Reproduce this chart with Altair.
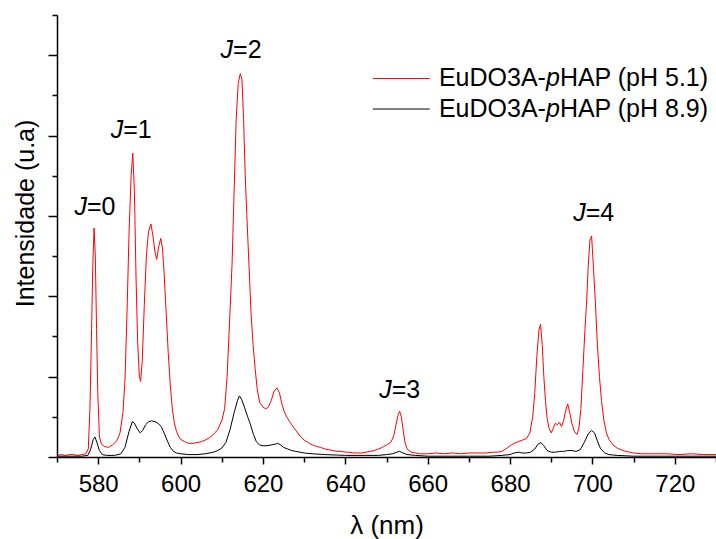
import altair as alt
import pandas as pd

# ---------------- data ----------------
red_nm = [570.0, 571.0, 572.0, 573.0, 574.0, 575.0, 576.0, 577.0, 577.6, 578.0, 578.4, 578.7, 579.0, 579.3,
          579.6, 579.9, 580.3, 580.8, 581.5, 582.5, 583.5, 584.5, 585.3, 586.0, 586.5, 587.0, 587.5, 588.0,
          588.4, 588.8, 589.2, 589.6, 590.0, 590.3, 590.7, 591.2, 591.7, 592.2, 592.8, 593.3, 593.8, 594.2,
          594.7, 595.2, 595.6, 596.0, 596.5, 597.0, 597.5, 598.0, 598.5, 599.0, 599.5, 600.0, 601.0, 602.0,
          603.0, 604.0, 605.0, 606.0, 607.0, 608.0, 609.0, 610.0, 610.7, 611.3, 612.0, 612.5, 613.0, 613.5,
          614.0, 614.5, 614.9, 615.3, 615.7, 616.1, 616.6, 617.1, 617.6, 618.1, 618.6, 619.2, 620.0, 620.7,
          621.3, 622.0, 622.7, 623.4, 624.0, 624.6, 625.2, 626.0, 627.0, 628.0, 629.0, 630.0, 631.0, 632.0,
          633.0, 634.0, 635.0, 636.0, 637.0, 638.0, 639.0, 640.0, 641.0, 642.0, 643.0, 644.0, 645.0, 646.0,
          647.0, 648.0, 649.0, 650.0, 651.0, 651.7, 652.3, 652.8, 653.2, 653.6, 654.0, 654.5, 655.0, 656.0,
          657.0, 658.0, 660.0, 662.0, 664.0, 666.0, 668.0, 670.0, 672.0, 674.0, 676.0, 677.0, 678.0, 679.0,
          680.0, 681.0, 682.0, 683.0, 684.0, 684.8, 685.5, 686.0, 686.5, 687.0, 687.4, 687.8, 688.2, 688.6,
          689.0, 689.5, 690.0, 690.5, 691.0, 691.5, 692.0, 692.5, 693.0, 693.5, 694.0, 694.5, 695.0, 695.6,
          696.2, 696.7, 697.2, 697.7, 698.2, 698.6, 699.0, 699.4, 699.8, 700.2, 700.7, 701.2, 701.7, 702.2,
          702.8, 703.4, 704.0, 705.0, 706.0, 707.0, 708.0, 709.0, 710.0, 712.0, 715.0, 718.0, 721.0, 724.0,
          727.0, 730.0]
red_int = [0.02, 0.03, 0.02, 0.03, 0.03, 0.02, 0.03, 0.04, 0.10, 0.60, 1.60, 2.40, 2.85, 2.50,
           1.60, 0.80, 0.25, 0.16, 0.13, 0.12, 0.15, 0.20, 0.30, 0.55, 0.95, 1.80, 2.80, 3.50,
           3.78, 3.30, 2.20, 1.40, 1.00, 0.94, 1.20, 1.90, 2.50, 2.80, 2.90, 2.75, 2.55, 2.46,
           2.62, 2.72, 2.60, 2.30, 1.80, 1.30, 0.90, 0.60, 0.42, 0.32, 0.26, 0.22, 0.19, 0.17,
           0.17, 0.18, 0.19, 0.21, 0.24, 0.28, 0.34, 0.45, 0.60, 1.00, 1.80, 2.40, 3.30, 4.20,
           4.65, 4.77, 4.70, 4.20, 3.50, 3.00, 2.40, 1.80, 1.40, 1.10, 0.85, 0.68, 0.62, 0.60,
           0.62, 0.70, 0.82, 0.86, 0.80, 0.66, 0.56, 0.48, 0.40, 0.33, 0.26, 0.21, 0.18, 0.15,
           0.13, 0.12, 0.10, 0.09, 0.08, 0.07, 0.07, 0.06, 0.06, 0.05, 0.05, 0.05, 0.06, 0.07,
           0.08, 0.10, 0.12, 0.15, 0.18, 0.25, 0.40, 0.52, 0.57, 0.50, 0.35, 0.18, 0.10, 0.06,
           0.05, 0.04, 0.04, 0.05, 0.04, 0.05, 0.04, 0.05, 0.05, 0.05, 0.06, 0.06, 0.07, 0.10,
           0.14, 0.17, 0.19, 0.21, 0.23, 0.30, 0.50, 0.80, 1.25, 1.58, 1.65, 1.40, 1.00, 0.70,
           0.48, 0.35, 0.30, 0.36, 0.42, 0.40, 0.43, 0.38, 0.45, 0.58, 0.66, 0.55, 0.42, 0.32,
           0.28, 0.35, 0.60, 1.10, 1.60, 1.94, 2.40, 2.70, 2.75, 2.40, 1.94, 1.40, 1.00, 0.70,
           0.45, 0.30, 0.22, 0.15, 0.11, 0.09, 0.07, 0.06, 0.05, 0.04, 0.04, 0.04, 0.03, 0.04,
           0.03, 0.03]

black_nm = [570.0, 576.0, 577.5, 578.2, 578.8, 579.2, 579.7, 580.3, 581.0, 582.0, 584.0, 585.5, 586.5,
            587.5, 588.3, 588.8, 589.5, 590.2, 590.8, 591.5, 592.3, 593.0, 593.8, 594.5, 595.3, 596.0,
            596.8, 597.5, 598.3, 599.0, 600.0, 602.0, 604.0, 606.0, 608.0, 609.0, 610.0, 611.0, 612.0,
            613.0, 613.8, 614.3, 614.8, 615.5, 616.3, 617.0, 617.7, 618.4, 619.2, 620.0, 621.0, 622.0,
            623.0, 623.6, 624.3, 625.0, 626.0, 627.0, 628.0, 630.0, 632.0, 635.0, 640.0, 645.0, 648.0,
            650.0, 651.5, 652.5, 653.2, 654.0, 655.0, 657.0, 660.0, 670.0, 675.0, 678.0, 680.0, 681.0,
            682.0, 683.0, 684.0, 685.0, 686.0, 686.8, 687.5, 688.2, 689.0, 690.0, 691.0, 692.0, 693.0,
            694.0, 695.0, 696.0, 697.0, 698.0, 699.0, 699.8, 700.5, 701.2, 702.0, 703.0, 704.0, 706.0,
            710.0, 730.0]
black_int = [0.01, 0.01, 0.02, 0.10, 0.22, 0.25, 0.18, 0.08, 0.03, 0.02, 0.02, 0.04, 0.12,
             0.32, 0.44, 0.42, 0.35, 0.30, 0.33, 0.40, 0.44, 0.45, 0.44, 0.42, 0.38, 0.30,
             0.20, 0.12, 0.07, 0.05, 0.04, 0.03, 0.03, 0.04, 0.06, 0.08, 0.11, 0.18, 0.34,
             0.55, 0.70, 0.76, 0.72, 0.62, 0.50, 0.40, 0.28, 0.19, 0.15, 0.14, 0.14, 0.15,
             0.16, 0.17, 0.15, 0.12, 0.10, 0.08, 0.07, 0.05, 0.04, 0.03, 0.02, 0.02, 0.02,
             0.03, 0.04, 0.06, 0.07, 0.05, 0.03, 0.02, 0.01, 0.01, 0.01, 0.02, 0.03, 0.05,
             0.06, 0.05, 0.05, 0.06, 0.10, 0.16, 0.18, 0.14, 0.08, 0.06, 0.06, 0.07, 0.07,
             0.08, 0.08, 0.07, 0.09, 0.18, 0.29, 0.33, 0.30, 0.20, 0.10, 0.05, 0.03, 0.02,
             0.01, 0.01]

series_names = ["EuDO3A-pHAP (pH 5.1)", "EuDO3A-pHAP (pH 8.9)"]
series_colors = ["#ff0000", "#000000"]

# transition labels (J = italic part, rest = upright part)
ann_nm = [579.2, 588.0, 614.7, 653.2, 700.3]
ann_val = [3.11, 4.07, 5.06, 0.83, 3.03]
ann_rest = ["=0", "=1", "=2", "=3", "=4"]

# legend rows
leg_y = [4.71, 4.33]
leg_line_start = 646.7
leg_line_end = 660.5
leg_split = 688.7  # where the italic "p" begins
leg_before = ["EuDO3A-", "EuDO3A-"]
leg_italic = ["p", "p"]
leg_after = ["HAP (pH 5.1)", "HAP (pH 8.9)"]

x_ticks = list(range(570, 731, 10))
y_ticks = [i * 0.5 for i in range(12)]

FONT = "Liberation Sans"

# ---------------- tables ----------------
spec_df = pd.concat([
    pd.DataFrame({"x": red_nm, "y": red_int, "s": series_names[0]}),
    pd.DataFrame({"x": black_nm, "y": black_int, "s": series_names[1]}),
])
ann_df = pd.DataFrame({"x": ann_nm, "y": ann_val, "j": ["J"] * 5, "rest": ann_rest})
leg_line_df = pd.DataFrame({"x": [leg_line_start] * 2, "x2": [leg_line_end] * 2, "y": leg_y,
                            "s": series_names})
leg_text_df = pd.DataFrame({"x": [leg_split] * 2, "y": leg_y, "a": leg_before,
                            "p": leg_italic, "b": leg_after})

xscale = alt.Scale(domain=[570, 730], nice=False, zero=False)
yscale = alt.Scale(domain=[0, 5.5], nice=False, zero=False)
cscale = alt.Scale(domain=series_names, range=series_colors)


def xenc():
    return alt.X("x:Q", scale=xscale, axis=alt.Axis(
        values=x_ticks, grid=False,
        labelExpr="datum.value % 20 == 0 ? datum.label : ''",
        labelOverlap=False, labelFlush=False,
        labelFont=FONT, labelFontSize=24, labelColor="#000", labelPadding=8,
        tickSize={"condition": {"test": "datum.value % 20 == 0", "value": 7}, "value": 5},
        tickColor="#000", tickWidth=1.5, domainColor="#000", domainWidth=1.5,
        title="λ (nm)", titleFont=FONT, titleFontSize=26, titleFontWeight="normal",
        titleColor="#000", titleBaseline="middle", titleY=68))


def yenc():
    return alt.Y("y:Q", scale=yscale, axis=alt.Axis(
        values=y_ticks, grid=False, labels=False,
        tickSize={"condition": {"test": "datum.value % 1 == 0", "value": 9}, "value": 5},
        tickColor="#000", tickWidth=1.5, domainColor="#000", domainWidth=1.5,
        title="Intensidade (u.a)", titleFont=FONT, titleFontSize=25, titleFontWeight="normal",
        titleColor="#000", titleBaseline="middle", titleX=-32, titleY=198, titleAngle=270))


lines = alt.Chart(spec_df).mark_line(strokeWidth=1, clip=True).encode(
    x=xenc(), y=yenc(),
    color=alt.Color("s:N", scale=cscale, legend=None),
    order=alt.Order("x:Q"))

j_text = alt.Chart(ann_df).mark_text(
    font=FONT, fontSize=25, fontStyle="italic", align="right", baseline="middle", dx=-8, color="#000"
).encode(x=xenc(), y=yenc(), text="j:N")
rest_text = alt.Chart(ann_df).mark_text(
    font=FONT, fontSize=25, align="left", baseline="middle", dx=-8, color="#000"
).encode(x=xenc(), y=yenc(), text="rest:N")

leg_lines = alt.Chart(leg_line_df).mark_rule(strokeWidth=1).encode(
    x=xenc(), x2="x2:Q", y=yenc(),
    color=alt.Color("s:N", scale=cscale, legend=None))
leg_a = alt.Chart(leg_text_df).mark_text(
    font=FONT, fontSize=25, align="right", baseline="middle", color="#000"
).encode(x=xenc(), y=yenc(), text="a:N")
leg_p = alt.Chart(leg_text_df).mark_text(
    font=FONT, fontSize=25, fontStyle="italic", align="left", baseline="middle", color="#000"
).encode(x=xenc(), y=yenc(), text="p:N")
leg_b = alt.Chart(leg_text_df).mark_text(
    font=FONT, fontSize=25, align="left", baseline="middle", dx=14, color="#000"
).encode(x=xenc(), y=yenc(), text="b:N")

chart = alt.layer(lines, j_text, rest_text, leg_lines, leg_a, leg_p, leg_b).properties(
    width=659, height=442,
    autosize=alt.AutoSizeParams(type="none"),
    padding={"left": 57, "top": 15, "right": 0, "bottom": 82},
    background="white",
).configure_view(stroke=None)

chart.save("out.html", embed_options={"renderer": "svg", "actions": False})
